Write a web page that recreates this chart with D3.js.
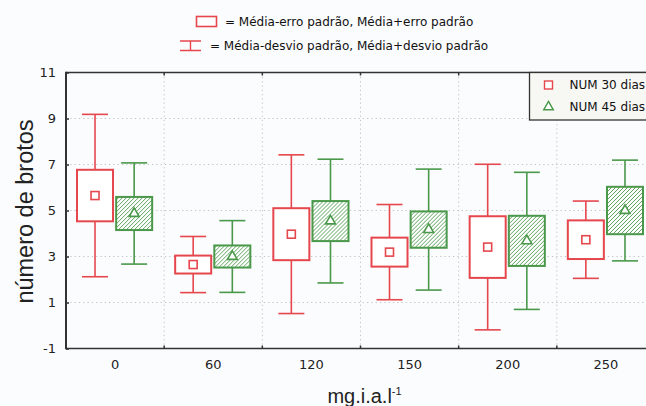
<!DOCTYPE html>
<html>
<head>
<meta charset="utf-8">
<script src="https://cdn.jsdelivr.net/npm/d3@7"></script>
<style>
  body { margin: 0; background: #fbfcfe; }
</style>
</head>
<body>
<script>
var categories = ["0", "60", "120", "150", "200", "250"];
var seriesNames = ["NUM 30 dias", "NUM 45 dias"];

// média, erro padrão, desvio padrão
var mean30 = [5.65, 2.65, 3.97, 3.19, 3.41, 3.73];
var se30 = [1.12, 0.39, 1.13, 0.63, 1.34, 0.84];
var sd30 = [3.53, 1.22, 3.45, 2.07, 3.60, 1.68];

var mean45 = [4.87, 3.00, 4.54, 4.17, 3.68, 5.00];
var se45 = [0.72, 0.48, 0.87, 0.79, 1.09, 1.03];
var sd45 = [2.20, 1.56, 2.69, 2.63, 2.98, 2.19];

var yTicks = [-1, 1, 3, 5, 7, 9, 11];

var svgWidth = 646;
var svgHeight = 406;
var plotLeft = 66, plotRight = 655, plotTop = 72.5, plotBottom = 348.5;

var red = "#e5474d";
var green = "#4a984a";

var rows = [];
categories.forEach(function(c, i) {
  rows.push({ cat: c, s: seriesNames[0], mean: mean30[i], se: se30[i], sd: sd30[i] });
  rows.push({ cat: c, s: seriesNames[1], mean: mean45[i], se: se45[i], sd: sd45[i] });
});

var svg = d3.select("body")
  .append("svg")
  .attr("width", svgWidth)
  .attr("height", svgHeight)
  .style("background", "#fbfcfe")
  .style("font-family", "'DejaVu Sans', sans-serif");

var x0 = d3.scaleBand()
  .domain(categories)
  .range([plotLeft, plotRight]);

var x1 = d3.scaleBand()
  .domain(seriesNames)
  .range([11, x0.bandwidth() - 12])
  .paddingInner(0.08);

var y = d3.scaleLinear()
  .domain([-1, 11])
  .range([plotBottom, plotTop]);

var color = d3.scaleOrdinal().domain(seriesNames).range([red, green]);

// hatch pattern
var pat = svg.append("defs")
  .append("pattern")
  .attr("id", "hatch")
  .attr("patternUnits", "userSpaceOnUse")
  .attr("width", 4)
  .attr("height", 4);
pat.append("rect").attr("width", 4).attr("height", 4).attr("fill", "#fff");
pat.append("path")
  .attr("d", "M-1,1 l2,-2 M0,4 l4,-4 M3,5 l2,-2")
  .attr("stroke", green)
  .attr("stroke-width", 0.9);

// grid
svg.append("g")
  .selectAll("line")
  .data(yTicks.slice(1, -1))
  .enter()
  .append("line")
  .attr("x1", plotLeft)
  .attr("x2", plotRight)
  .attr("y1", function(d) { return y(d); })
  .attr("y2", function(d) { return y(d); })
  .attr("stroke", "#c4c4c4")
  .attr("stroke-dasharray", "1.3,3");

var bounds = categories.slice(1).map(function(c) { return x0(c); });

svg.append("g")
  .selectAll("line")
  .data(bounds)
  .enter()
  .append("line")
  .attr("x1", function(d) { return d; })
  .attr("x2", function(d) { return d; })
  .attr("y1", plotTop)
  .attr("y2", plotBottom)
  .attr("stroke", "#c4c4c4")
  .attr("stroke-dasharray", "1.3,3");

// boxes
var groups = svg.append("g")
  .selectAll(".box")
  .data(rows)
  .enter()
  .append("g")
  .attr("class", "box")
  .attr("transform", function(d) { return "translate(" + (x0(d.cat) + x1(d.s)) + ",0)"; });

var cx = x1.bandwidth() / 2;

groups.append("line")
  .attr("x1", cx).attr("x2", cx)
  .attr("y1", function(d) { return y(d.mean + d.sd); })
  .attr("y2", function(d) { return y(d.mean - d.sd); })
  .attr("stroke", function(d) { return color(d.s); })
  .attr("stroke-width", 1.6);

[1, -1].forEach(function(k) {
  groups.append("line")
    .attr("x1", cx - 13).attr("x2", cx + 13)
    .attr("y1", function(d) { return y(d.mean + k * d.sd); })
    .attr("y2", function(d) { return y(d.mean + k * d.sd); })
    .attr("stroke", function(d) { return color(d.s); })
    .attr("stroke-width", 1.6);
});

groups.append("rect")
  .attr("x", 0)
  .attr("width", x1.bandwidth())
  .attr("y", function(d) { return y(d.mean + d.se); })
  .attr("height", function(d) { return y(d.mean - d.se) - y(d.mean + d.se); })
  .attr("fill", function(d) { return d.s == seriesNames[0] ? "#fff" : "url(#hatch)"; })
  .attr("stroke", function(d) { return color(d.s); })
  .attr("stroke-width", 2);

groups.filter(function(d) { return d.s == seriesNames[0]; })
  .append("rect")
  .attr("x", cx - 4)
  .attr("y", function(d) { return y(d.mean) - 4; })
  .attr("width", 8)
  .attr("height", 8)
  .attr("fill", "#fff")
  .attr("stroke", red)
  .attr("stroke-width", 1.6);

groups.filter(function(d) { return d.s == seriesNames[1]; })
  .append("path")
  .attr("d", d3.symbol(d3.symbolTriangle).size(42))
  .attr("transform", function(d) { return "translate(" + cx + "," + y(d.mean) + ")"; })
  .attr("fill", "#fff")
  .attr("stroke", green)
  .attr("stroke-width", 1.6);

// y axis
var yAxis = svg.append("g")
  .attr("transform", "translate(" + plotLeft + ",0)")
  .call(d3.axisLeft(y).tickValues(yTicks).tickSize(-3).tickPadding(10)
    .tickFormat(function(d) { return String(d); }));
yAxis.select(".domain").remove();
yAxis.selectAll("line").attr("stroke", "#333").attr("stroke-width", 1.5);
yAxis.selectAll("text").attr("font-size", 13).attr("fill", "#222")
  .attr("font-family", "'DejaVu Sans', sans-serif");

// x axis
var xAxis = svg.append("g")
  .attr("transform", "translate(0," + plotBottom + ")")
  .call(d3.axisBottom(x0).tickSize(0).tickPadding(11));
xAxis.select(".domain").remove();
xAxis.selectAll("text").attr("font-size", 13).attr("fill", "#222")
  .attr("font-family", "'DejaVu Sans', sans-serif");

// ticks at band boundaries
svg.append("g")
  .selectAll("line")
  .data(bounds)
  .enter()
  .append("line")
  .attr("x1", function(d) { return d; })
  .attr("x2", function(d) { return d; })
  .attr("y1", plotBottom)
  .attr("y2", plotBottom - 3)
  .attr("stroke", "#333")
  .attr("stroke-width", 1.5);

svg.append("g")
  .selectAll("line")
  .data(bounds)
  .enter()
  .append("line")
  .attr("x1", function(d) { return d; })
  .attr("x2", function(d) { return d; })
  .attr("y1", plotTop)
  .attr("y2", plotTop + 3)
  .attr("stroke", "#333")
  .attr("stroke-width", 1.5);

// frame
svg.append("line")
  .attr("x1", plotLeft).attr("x2", plotRight)
  .attr("y1", plotTop).attr("y2", plotTop)
  .attr("stroke", "#333").attr("stroke-width", 1.5);
svg.append("line")
  .attr("x1", plotLeft).attr("x2", plotRight)
  .attr("y1", plotBottom).attr("y2", plotBottom)
  .attr("stroke", "#333").attr("stroke-width", 1.5);
svg.append("line")
  .attr("x1", plotLeft).attr("x2", plotLeft)
  .attr("y1", plotTop - 0.75).attr("y2", plotBottom + 0.75)
  .attr("stroke", "#333").attr("stroke-width", 2);

// titles
svg.append("text")
  .attr("transform", "translate(33," + ((plotTop + plotBottom) / 2 + 1) + ") rotate(-90)")
  .attr("text-anchor", "middle")
  .attr("font-family", "'Liberation Sans', Arial, sans-serif")
  .attr("font-size", 23.5)
  .attr("fill", "#222")
  .text("número de brotos");

var xt = svg.append("text")
  .attr("x", (plotLeft + plotRight) / 2 + 4)
  .attr("y", 403)
  .attr("text-anchor", "middle")
  .attr("font-family", "'Liberation Sans', Arial, sans-serif")
  .attr("font-size", 20)
  .attr("fill", "#222");
xt.append("tspan").text("mg.i.a.l");
xt.append("tspan").attr("font-size", 11).attr("dy", -8).text("-1");

// top legend
svg.append("rect")
  .attr("x", 196.5).attr("y", 16.5)
  .attr("width", 20).attr("height", 10)
  .attr("fill", "#fff")
  .attr("stroke", red)
  .attr("stroke-width", 1.6);
svg.append("path")
  .attr("d", "M180,41 H201 M180,50.5 H201 M190.5,41 V50.5")
  .attr("fill", "none")
  .attr("stroke", red)
  .attr("stroke-width", 1.4);

svg.append("text")
  .attr("x", 225).attr("y", 26)
  .attr("font-size", 12)
  .attr("fill", "#111")
  .text("= Média-erro padrão, Média+erro padrão");
svg.append("text")
  .attr("x", 210).attr("y", 50)
  .attr("font-size", 12)
  .attr("fill", "#111")
  .text("= Média-desvio padrão, Média+desvio padrão");

// series legend
var leg = svg.append("g").attr("transform", "translate(529.5," + plotTop + ")");
leg.append("rect")
  .attr("width", 130).attr("height", 47.5)
  .attr("fill", "#f7f7f3")
  .attr("stroke", "#333")
  .attr("stroke-width", 1.3);

var items = leg.selectAll(".item")
  .data(seriesNames)
  .enter()
  .append("g")
  .attr("class", "item")
  .attr("transform", function(d, i) { return "translate(0," + (12.5 + i * 22) + ")"; });

items.filter(function(d, i) { return i == 0; })
  .append("rect")
  .attr("x", 15).attr("y", -4)
  .attr("width", 8).attr("height", 8)
  .attr("fill", "#fff")
  .attr("stroke", red)
  .attr("stroke-width", 1.4);
items.filter(function(d, i) { return i == 1; })
  .append("path")
  .attr("d", d3.symbol(d3.symbolTriangle).size(40))
  .attr("transform", "translate(19,0)")
  .attr("fill", "#fff")
  .attr("stroke", green)
  .attr("stroke-width", 1.4);

items.append("text")
  .attr("x", 40)
  .attr("dy", "0.35em")
  .attr("font-size", 12)
  .attr("fill", "#111")
  .text(function(d) { return d; });
</script>
</body>
</html>
